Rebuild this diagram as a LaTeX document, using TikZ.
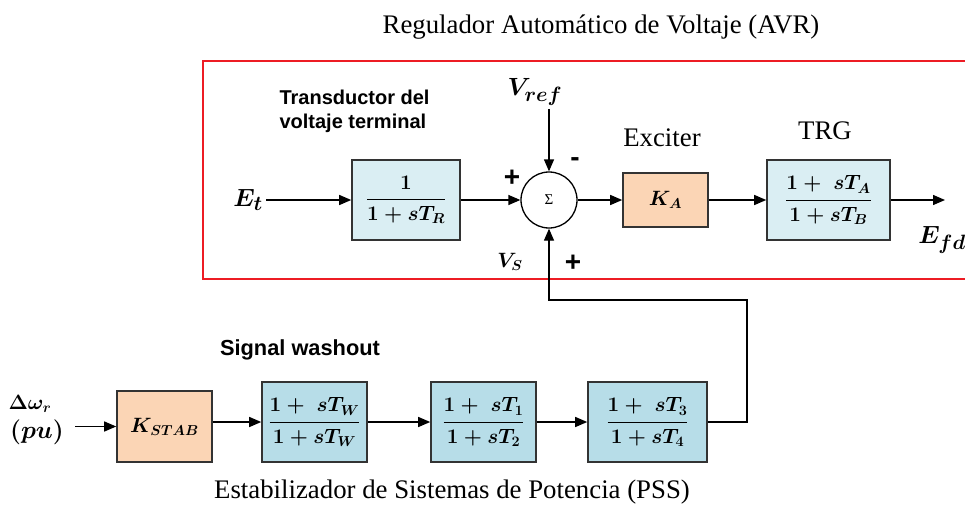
\documentclass[tikz,border=0pt]{standalone}
\usepackage{amsmath}
\usepackage{fontspec}
\setmainfont{Liberation Serif}
\setsansfont{Liberation Sans}
\usetikzlibrary{arrows.meta}
\definecolor{avrred}{RGB}{237,28,36}
\definecolor{avrblue}{RGB}{218,238,243}
\definecolor{pssblue}{RGB}{183,221,232}
\definecolor{gainorange}{RGB}{251,213,181}
\tikzset{
  signal line/.style={
    -{Triangle[length=12pt,width=10pt]},
    line width=1.3pt
  },
  avr frame/.style={
    draw=avrred,
    line width=1.8pt
  },
  tf block/.style={
    draw=black!80,
    line width=1.6pt,
    fill=avrblue,
    minimum height=80pt,
    inner sep=0pt,
    font=\fontsize{20.74}{24}\selectfont\boldmath
  },
  pss block/.style={
    tf block,
    fill=pssblue
  },
  gain block/.style={
    tf block,
    fill=gainorange
  },
  sum node/.style={
    circle,
    draw=black,
    line width=1.3pt,
    minimum size=56pt,
    inner sep=0pt,
    font=\fontsize{15}{15}\selectfont
  },
  title text/.style={
    font=\fontsize{26.8}{30}\selectfont
  },
  bold label/.style={
    font=\sffamily\bfseries\fontsize{20}{24}\selectfont
  },
  sign label/.style={
    font=\sffamily\bfseries\fontsize{28}{30}\selectfont
  },
  math label/.style={
    font=\fontsize{24.88}{28}\selectfont\boldmath
  }
}

\begin{document}
\begin{tikzpicture}[x=1pt, y=-1pt]
    \useasboundingbox (0,0) rectangle (965,508);

    % 1. Regulador (AVR)
    \node[title text] (avr title) at (601,27) {Regulador Automático de Voltaje (AVR)};
    % marco rojo, abierto a la derecha
    \draw[avr frame] (975,61) -- (203,61) -- (203,279) -- (975,279);
    \node[bold label, anchor=west, align=left] (trans label) at (276,111) {Transductor del\\voltaje terminal};
    % entrada y transductor
    \node[math label] (Et) at (248,200) {$E_t$};
    \node[tf block, minimum width=108pt] (tr) at (406,200) {$\dfrac{1}{1+sT_R}$};
    % sumador
    \node[sum node] (sum) at (549,200) {Σ};
    \node[math label] (Vref) at (535,92) {$V_{ref}$};
    \node[sign label] (p1) at (512,178) {+};
    \node[sign label] (m1) at (575,162) {-};
    \node[math label, font=\fontsize{20.74}{24}\selectfont\boldmath] (Vs) at (510,262) {$V_S$};
    \node[sign label] (p2) at (573,263) {+};
    % excitatriz y TRG
    \node[gain block, minimum width=85pt, minimum height=54pt] (ka) at (665.5,200) {$K_A$};
    \node[title text] (exc label) at (662,138) {Exciter};
    \node[tf block, minimum width=123pt] (trg) at (828.5,200) {$\dfrac{1+\;sT_A}{1+sT_B}$};
    \node[title text] (trg label) at (825,131) {TRG};
    \coordinate (out) at (945,200);
    \node[math label] (Efd) at (942,240) {$E_{fd}$};

    \draw[signal line] (Et) -- (tr);
    \draw[signal line] (tr) -- (sum);
    \draw[signal line] (Vref.south -| sum) -- (sum);
    \draw[signal line] (sum) -- (ka);
    \draw[signal line] (ka) -- (trg);
    \draw[signal line] (trg) -- (out);

    % 2. Estabilizador (PSS)
    \node[bold label, font=\sffamily\bfseries\fontsize{21.8}{24}\selectfont] (wash label) at (300,350) {Signal washout};
    \node[math label, font=\fontsize{20.74}{24}\selectfont\boldmath] (dw) at (30,404) {$\Delta\omega_r$};
    \node[math label] (pu) at (37,432) {$(pu)$};
    \node[gain block, minimum width=95pt, minimum height=71pt] (kstab) at (164.5,426.5) {$K_{STAB}$};
    \node[pss block, minimum width=105pt] (wash) at (314.5,422) {$\dfrac{1+\;sT_W}{1+sT_W}$};
    \node[pss block, minimum width=105pt] (ll1) at (483.5,422) {$\dfrac{1+\;sT_1}{1+sT_2}$};
    \node[pss block, minimum width=119pt] (ll2) at (647.5,422) {$\dfrac{1+\;sT_3}{1+sT_4}$};
    \node[title text] (pss title) at (452,492) {Estabilizador de Sistemas de Potencia (PSS)};
    % esquina de la realimentacion
    \coordinate (fb) at (747,300);

    \draw[signal line] ([xshift=8pt]pu.east |- kstab) -- (kstab);
    \draw[signal line] (kstab.east |- wash) -- (wash);
    \draw[signal line] (wash) -- (ll1);
    \draw[signal line] (ll1) -- (ll2);
    \draw[signal line] (ll2) -| (fb) -| (sum);

  \end{tikzpicture}
\end{document}
